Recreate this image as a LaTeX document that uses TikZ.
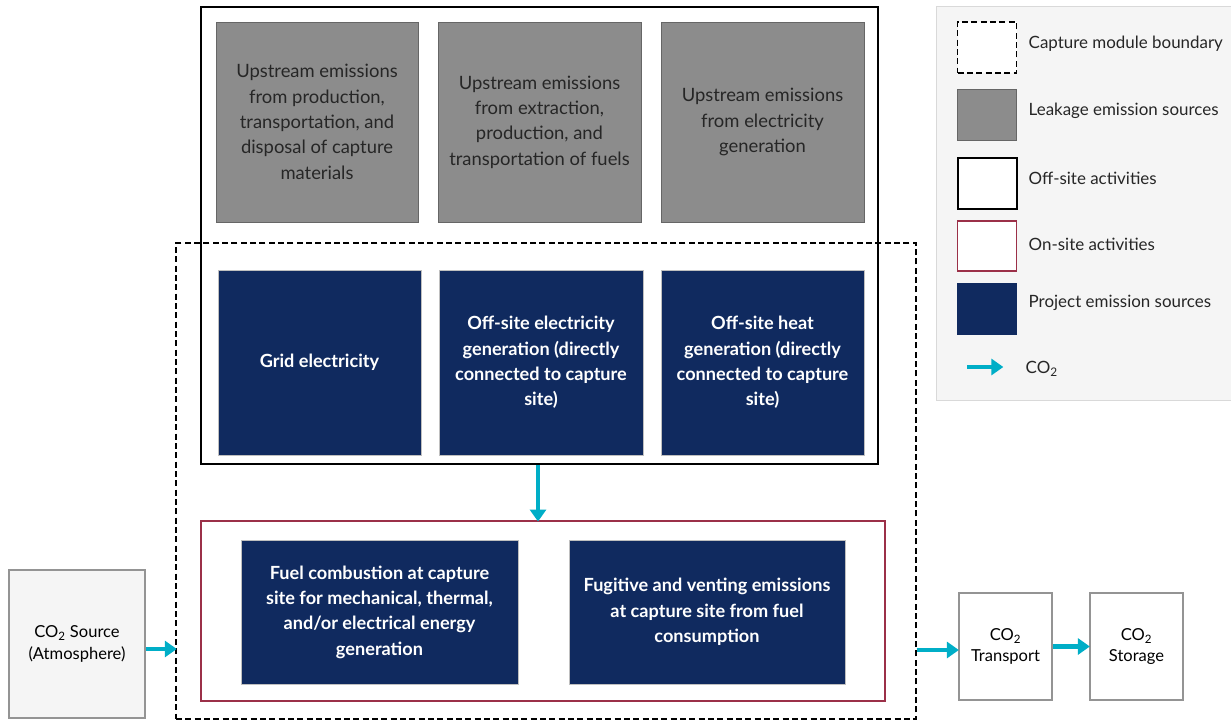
\documentclass[tikz,border=0pt]{standalone}
\usepackage{fontspec}
\setmainfont{Lato}
\usetikzlibrary{shapes}
\usetikzlibrary{arrows.meta}

\definecolor{navy}{RGB}{16,42,95}
\definecolor{leak}{RGB}{140,140,140}
\definecolor{onsite}{RGB}{155,48,72}
\definecolor{flowcol}{RGB}{0,174,199}
\definecolor{panel}{RGB}{245,245,245}

\tikzset{
	boxsize/.style 2 args={minimum width=#1*0.75pt, minimum height=#2*0.75pt, inner sep=0pt},
	leakbox/.style={draw=black!60, fill=leak, text=black!85, align=center, font=\fontsize{13.8}{19}\selectfont},
	projbox/.style={draw=black!25, fill=navy, text=white, align=center, font=\fontsize{13.6}{19}\selectfont\bfseries},
	stagebox/.style={draw=black!42, line width=2.2pt, align=center, font=\fontsize{12.4}{16}\selectfont},
	boundary/.style={draw, thick, dash pattern=on 4.5pt off 2.5pt},
	flow/.style={draw=flowcol, line width=3.6pt, -{Triangle[length=9pt, width=12pt]}, shorten >=-1pt},
	legtext/.style={anchor=west, font=\fontsize{12.7}{15}\selectfont, text=black!85}
}

\begin{document}
\begin{tikzpicture}[x=0.75pt, y=-0.75pt]
		\useasboundingbox (0,0) rectangle (1231,721);
		% legend panel
		\node[boxsize={295}{394}, draw=black!15, fill=panel] (legend) at (1083.5,203) {};
		\node[boxsize={59}{51}, boundary, fill=white] (lg1) at (987,47.5) {};
		\node[boxsize={59}{51}, draw=black!60, fill=leak] (lg2) at (987,115) {};
		\node[boxsize={59}{51}, draw, line width=1.5pt, fill=white] (lg3) at (987,183) {};
		\node[boxsize={59}{50}, draw=onsite, line width=1.2pt, fill=white] (lg4) at (987,246) {};
		\node[boxsize={59}{51}, draw=navy, fill=navy] (lg5) at (987,308.5) {};
		\coordinate (lg6a) at (967,367);
		\coordinate (lg6b) at (1002,367);
		\draw[flow] (lg6a) -- (lg6b);
		\node[legtext] at (1024,44) {Capture module boundary};
		\node[legtext] at (1024,111) {Leakage emission sources};
		\node[legtext] at (1024,178) {Off-site activities};
		\node[legtext] at (1024,244) {On-site activities};
		\node[legtext] at (1024,303) {Project emission sources};
		\node[legtext] at (1021,369) {CO\textsubscript{2}};

		% boundaries
		\node[boxsize={677}{457}, draw, line width=1.6pt] (offsite) at (539.5,235.5) {};
		\node[boxsize={740}{476}, boundary] (module) at (546,481) {};
		\node[boxsize={684}{180}, draw=onsite, line width=1.2pt] (onsite) at (543,611) {};

		% leakage sources
		\node[leakbox, boxsize={202}{200}] (up1) at (317,122) {Upstream emissions\\from production,\\transportation, and\\disposal of capture\\materials};
		\node[leakbox, boxsize={203}{200}] (up2) at (539.5,122) {Upstream emissions\\from extraction,\\production, and\\transportation of fuels};
		\node[leakbox, boxsize={203}{200}] (up3) at (762.5,122) {Upstream emissions\\from electricity\\generation};

		% project sources
		\node[projbox, boxsize={203}{185}] (grid) at (319.5,362.5) {Grid electricity};
		\node[projbox, boxsize={204}{185}] (elec) at (541,362.5) {Off-site electricity\\generation (directly\\connected to capture\\site)};
		\node[projbox, boxsize={203}{185}] (heat) at (762.5,362.5) {Off-site heat\\generation (directly\\connected to capture\\site)};
		\node[projbox, boxsize={277}{144}] (fuel) at (379.5,612) {Fuel combustion at capture\\site for mechanical, thermal,\\and/or electrical energy\\generation};
		\node[projbox, boxsize={276}{144}] (fugitive) at (707,612) {Fugitive and venting emissions\\at capture site from fuel\\consumption};

		% CO2 chain
		\node[stagebox, fill=panel, boxsize={136}{148}] (source) at (77,644) {CO\textsubscript{2} Source\\(Atmosphere)};
		\node[stagebox, fill=white, boxsize={93}{107}] (transport) at (1005.5,646.5) {CO\textsubscript{2}\\Transport};
		\node[stagebox, fill=white, boxsize={93}{107}] (storage) at (1136.5,646.5) {CO\textsubscript{2}\\Storage};

		\draw[flow] (offsite.south -| 538,0) -- (onsite.north -| 538,0);
		\draw[flow] (source.east |- 0,649) -- (module.west |- 0,649);
		\draw[flow] (module.east |- 0,650) -- (transport.west |- 0,650);
		\draw[flow] (transport) -- (storage);
	\end{tikzpicture}
\end{document}
